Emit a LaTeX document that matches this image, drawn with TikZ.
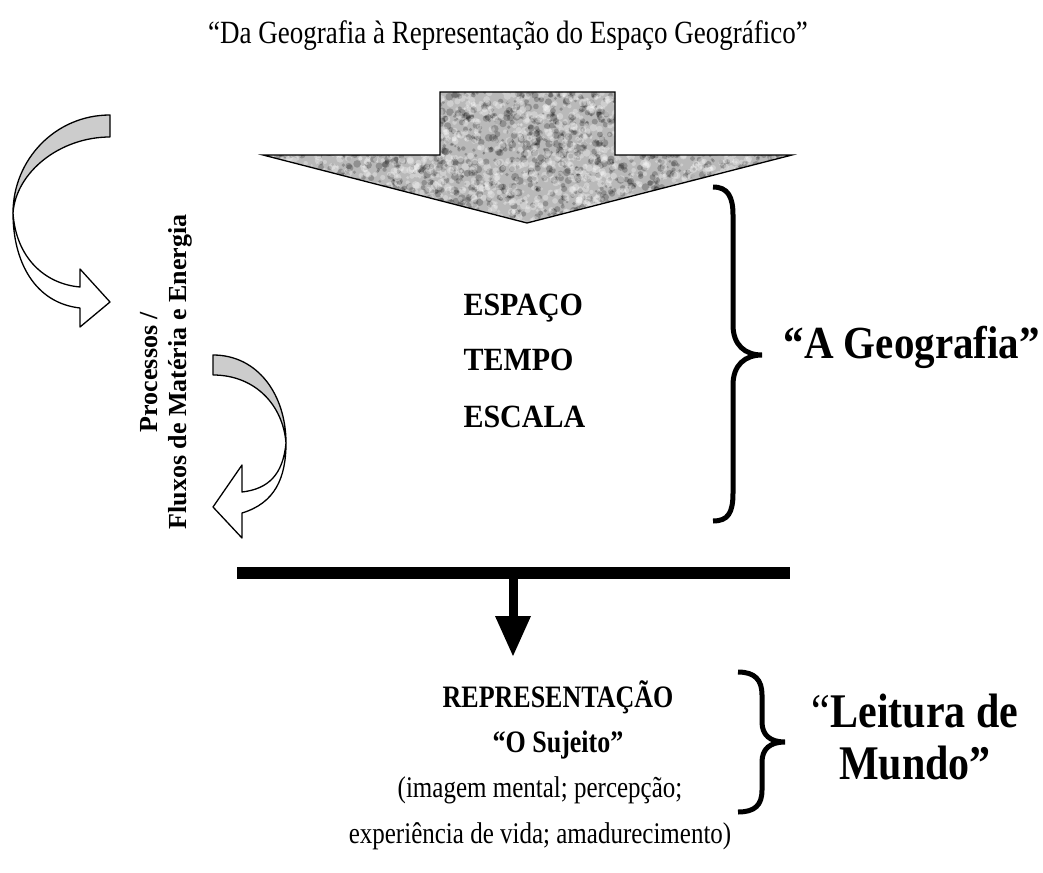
\documentclass[tikz,border=0pt]{standalone}
\usepackage{fontspec}
\setmainfont{Liberation Serif}
\begin{document}
\begin{tikzpicture}[x=1pt,y=-1pt,
  ribbon/.style={draw=black,line width=1.3pt,line join=round},
  bracestyle/.style={draw=black,line width=5pt,line cap=butt},
  bigword/.style={font=\bfseries\fontsize{30}{30}\selectfont,anchor=base west,yscale=1.08},
  plain/.style={font=\fontsize{25}{25}\selectfont,anchor=base,yscale=1.2},
  boldc/.style={font=\bfseries\fontsize{26}{26}\selectfont,anchor=base,yscale=1.2}]
\useasboundingbox (0,0) rectangle (1043,872);
% title
\node[font=\fontsize{27}{27}\selectfont,anchor=base,yscale=1.2] (title) at (508,44)
  {``Da Geografia à Representação do Espaço Geográfico''};
% block arrow with granite texture
\begin{scope}
\clip (440,92) -- (615,92) -- (615,155) -- (792,155) -- (527,223) -- (263,155) -- (440,155) -- cycle;
\fill[gray!55] (263,92) rectangle (792,223);
\pgfmathsetseed{11}
\foreach \i in {1,...,1700}{
  \pgfmathsetmacro{\px}{263+rnd*529}
  \pgfmathsetmacro{\py}{92+rnd*131}
  \pgfmathsetmacro{\pr}{1.2+rnd*2.8}
  \fill[black,opacity=0.22] (\px,\py) circle (\pr);
}
\foreach \i in {1,...,1700}{
  \pgfmathsetmacro{\px}{263+rnd*529}
  \pgfmathsetmacro{\py}{92+rnd*131}
  \pgfmathsetmacro{\pr}{1.2+rnd*2.8}
  \fill[white,opacity=0.3] (\px,\py) circle (\pr);
}
\end{scope}
\draw[line width=1.3pt,line join=miter] (440,92) -- (615,92) -- (615,155) -- (792,155) -- (527,223) -- (263,155) -- (440,155) -- cycle;
% curved arrow 1
\filldraw[ribbon,fill=gray!40] (110,115) .. controls (55,115) and (13,160) .. (13,213)
  .. controls (16,172) and (60,137) .. (110,137) -- cycle;
\filldraw[ribbon,fill=white] (13,213) .. controls (16,258) and (45,284) .. (80,287)
  -- (80,269) -- (110,302) -- (80,327) -- (80,308)
  .. controls (35,303) and (13,262) .. (13,213) -- cycle;
% curved arrow 2
\filldraw[ribbon,fill=gray!40] (213,355) .. controls (258,355) and (286,395) .. (286,443)
  .. controls (283,405) and (255,375) .. (213,375) -- cycle;
\filldraw[ribbon,fill=white] (286,443) .. controls (283,475) and (268,489) .. (242,492)
  -- (242,465) -- (213,507) -- (242,538) -- (242,513)
  .. controls (275,503) and (286,478) .. (286,443) -- cycle;
% vertical label
\node[rotate=90,align=center,font=\bfseries\fontsize{26}{29}\selectfont] (flux) at (166,372)
  {Processos /\\Fluxos de Matéria e Energia};
% central words
\node[bigword] (espaco) at (460,315) {ESPAÇO};
\node[bigword] (tempo) at (460,370) {TEMPO};
\node[bigword] (escala) at (460,427) {ESCALA};
% brace 1
\draw[bracestyle] (713,187) .. controls (728,187) and (733,197) .. (733,215) -- (733,325)
  .. controls (733,345) and (745,355) .. (762,355)
  .. controls (745,355) and (733,365) .. (733,385) -- (733,493)
  .. controls (733,513) and (728,521) .. (713,521);
\node[font=\bfseries\fontsize{41}{41}\selectfont,anchor=base west,yscale=1.12] (geo) at (780,358) {``A Geografia''};
% bar and arrow
\fill[black] (237,567) rectangle (790,579);
\fill[black] (509,579) rectangle (518,617);
\fill[black] (495,616) -- (531,616) -- (513,656) -- cycle;
% lower texts
\node[boldc] (rep) at (558,707) {REPRESENTAÇÃO};
\node[boldc] (suj) at (558,752) {``O Sujeito''};
\node[plain] (img) at (540,797) {(imagem mental; percepção;};
\node[plain] (exp) at (540,843) {experiência de vida; amadurecimento)};
% brace 2
\draw[bracestyle] (738,672) .. controls (755,672) and (762,680) .. (762,695) -- (762,722)
  .. controls (762,735) and (770,742) .. (785,742)
  .. controls (770,742) and (762,749) .. (762,762) -- (762,790)
  .. controls (762,805) and (755,812) .. (738,812);
\node[font=\bfseries\fontsize{42}{46}\selectfont,align=center,yscale=1.15] (leit) at (915,737) {{\mdseries``}Leitura de\\Mundo''};
\end{tikzpicture}
\end{document}
